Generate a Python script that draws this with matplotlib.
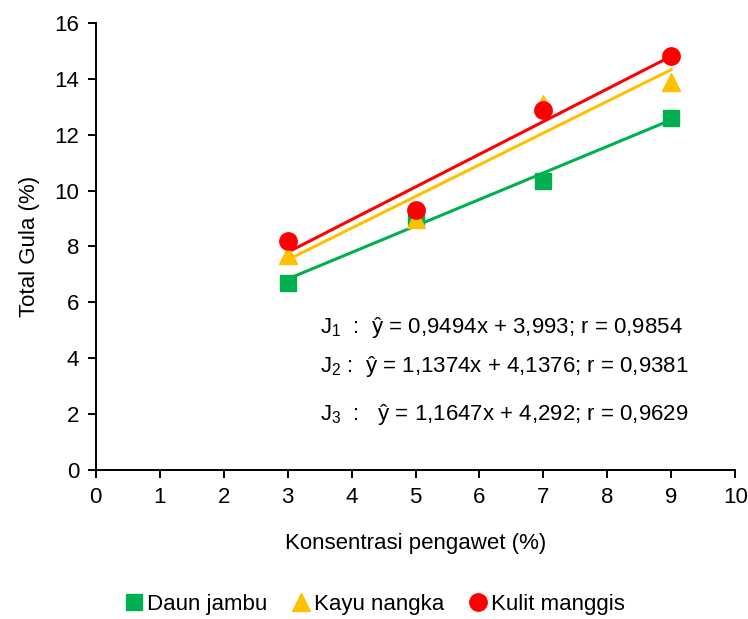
import numpy as np
import matplotlib
matplotlib.use("Agg")
import matplotlib.pyplot as plt

plt.rcParams['font.family'] = ['Liberation Sans', 'DejaVu Sans']
plt.rcParams['mathtext.default'] = 'regular'

x = [3, 5, 7, 9]
daun_jambu = [6.7, 9.07, 10.36, 12.6]
kayu_nangka = [7.7, 9.0, 13.1, 13.9]
kulit_manggis = [8.2, 9.3, 12.9, 14.8]
labels = ["Daun jambu", "Kayu nangka", "Kulit manggis"]
equations = ["J$_1$  :  ŷ = 0,9494x + 3,993; r = 0,9854",
             "J$_2$ :  ŷ = 1,1374x + 4,1376; r = 0,9381",
             "J$_3$  :   ŷ = 1,1647x + 4,292; r = 0,9629"]

fig = plt.figure(figsize=(7.48, 6.19), dpi=100)
ax = fig.add_axes([0.128, 0.2407, 0.855, 0.7223])

series = [(daun_jambu, "#00B050", "s", 12), (kayu_nangka, "#FFC000", "^", 13), (kulit_manggis, "#FF0000", "o", 12.5)]
xa = np.array(x, dtype=float)
for (ys, c, m, ms), lab in zip(series, labels):
    k, b = np.polyfit(xa, ys, 1)
    ax.plot(xa, k * xa + b, color=c, lw=2.2, zorder=2)
for (ys, c, m, ms), lab in zip(series, labels):
    ax.plot(x, ys, linestyle="none", marker=m, color=c, markersize=ms, label=lab, zorder=3)

ax.set_xlim(0, 10)
ax.set_ylim(0, 16)
ax.set_xticks(range(0, 11))
ax.set_yticks(range(0, 17, 2))
ax.spines['top'].set_visible(False)
ax.spines['right'].set_visible(False)
for s in ['left', 'bottom']:
    ax.spines[s].set_linewidth(1.4)
ax.tick_params(direction='out', length=6, width=1.4, labelsize=16, pad=6)
ax.set_xlabel("Konsentrasi pengawet (%)", fontsize=16, labelpad=18)
ax.set_ylabel("Total Gula (%)", fontsize=16, labelpad=10)

ypos = [5.1, 3.7, 2.0]
for eq, yp in zip(equations, ypos):
    ax.text(3.5, yp, eq, fontsize=16, ha='left', va='center')

fig.legend(loc='center', bbox_to_anchor=(0.5, 0.024), ncol=3, frameon=False,
           fontsize=16, handletextpad=0.1, columnspacing=1.0, handlelength=1.0)

fig.savefig("out.png", dpi=100)
